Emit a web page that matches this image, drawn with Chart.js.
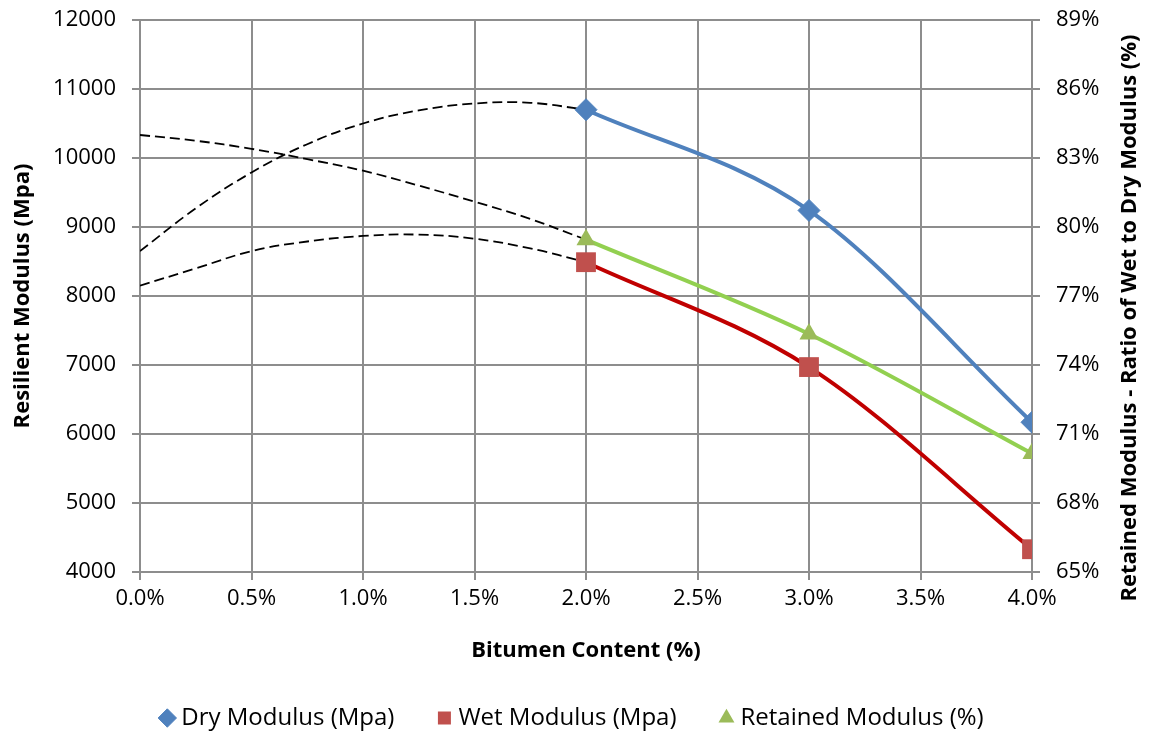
<!DOCTYPE html>
<html>
<head>
<meta charset="utf-8">
<script src="https://cdn.jsdelivr.net/npm/chart.js@4.4.1/dist/chart.umd.min.js"></script>
<style>
  html, body { margin: 0; padding: 0; background: #ffffff; }
  #wrap { width: 1149px; height: 734px; }
</style>
</head>
<body>
<div id="wrap"><canvas id="chart" width="1149" height="734"></canvas></div>
<script>
// Bitumen content (%) at which the specimens were tested
const bitumen = [2.0, 3.0, 4.0];
// Resilient modulus, dry and wet conditioned (MPa)
const dryModulus = [10700, 9240, 6170];
const wetModulus = [8490, 6970, 4330];
// Retained modulus, wet / dry (%)
const retainedModulus = [79.45, 75.35, 70.15];

// Polynomial trend lines carried back to 0 % bitumen
const trendBitumen = [0, 0.25, 0.5, 0.75, 1.0, 1.25, 1.5, 1.75, 2.0];
const dryTrend = [8650, 9270, 9790, 10200, 10500, 10690, 10790, 10800, 10700];
const wetTrend = [8150, 8400, 8650, 8790, 8870, 8890, 8830, 8690, 8490];
const retainedTrend = [84.0, 83.75, 83.4, 82.95, 82.45, 81.8, 81.1, 80.35, 79.45];

// Axis tick settings
const xTicks = { min: 0, max: 4, step: 0.5 };
const leftTicks = { min: 4000, max: 12000, step: 1000 };
const rightTicks = { min: 65, max: 89, step: 3 };

const xTitle = 'Bitumen Content (%)';
const leftTitle = 'Resilient Modulus (Mpa)';
const rightTitle = 'Retained Modulus - Ratio of Wet to Dry Modulus (%)';

const FONT = '"Open Sans", "Noto Sans", sans-serif';
const GRID = '#8d8d8d';

const pts = (xs, ys) => xs.map((x, i) => ({ x: x, y: ys[i] }));

// Right-hand axis title, reading bottom to top
const rightTitlePlugin = {
  id: 'rightTitle',
  afterDraw(chart) {
    const { ctx, chartArea } = chart;
    const s = chart.scales.y2;
    ctx.save();
    ctx.font = 'bold 22px ' + FONT;
    ctx.fillStyle = '#000000';
    ctx.textAlign = 'center';
    ctx.textBaseline = 'middle';
    ctx.translate(s.right - 19, (chartArea.top + chartArea.bottom) / 2 + 22);
    ctx.rotate(-Math.PI / 2);
    ctx.fillText(rightTitle, 0, 0);
    ctx.restore();
  }
};

const trendStyle = {
  borderColor: '#000000',
  borderWidth: 1.8,
  borderDash: [10, 5],
  pointRadius: 0,
  tension: 0.4,
  fill: false
};

// vertical axes: keep the plot area flush with the top padding
const noVPad = (scale) => { scale.paddingTop = 0; scale.paddingBottom = 0; };

new Chart(document.getElementById('chart'), {
  type: 'line',
  data: {
    datasets: [
      {
        label: 'Dry Modulus (Mpa)',
        data: pts(bitumen, dryModulus),
        yAxisID: 'y',
        borderColor: '#4F81BD',
        backgroundColor: '#4F81BD',
        borderWidth: 4,
        pointStyle: 'rectRot',
        pointRadius: 11,
        pointBorderWidth: 1,
        cubicInterpolationMode: 'monotone'
      },
      {
        label: 'Wet Modulus (Mpa)',
        data: pts(bitumen, wetModulus),
        yAxisID: 'y',
        borderColor: '#C00000',
        backgroundColor: '#C0504D',
        pointBorderColor: '#C0504D',
        borderWidth: 4,
        pointStyle: 'rect',
        pointRadius: 14,
        pointBorderWidth: 0,
        cubicInterpolationMode: 'monotone'
      },
      {
        label: 'Retained Modulus (%)',
        data: pts(bitumen, retainedModulus),
        yAxisID: 'y2',
        borderColor: '#92D050',
        backgroundColor: '#9BBB59',
        pointBorderColor: '#9BBB59',
        borderWidth: 4,
        pointStyle: 'triangle',
        pointRadius: 11,
        pointBorderWidth: 0,
        cubicInterpolationMode: 'monotone'
      },
      Object.assign({ label: '', data: pts(trendBitumen, dryTrend), yAxisID: 'y' }, trendStyle),
      Object.assign({ label: '', data: pts(trendBitumen, wetTrend), yAxisID: 'y' }, trendStyle),
      Object.assign({ label: '', data: pts(trendBitumen, retainedTrend), yAxisID: 'y2' }, trendStyle)
    ]
  },
  options: {
    responsive: false,
    animation: false,
    events: [],
    layout: { padding: { top: 20, left: 0, right: 0, bottom: -6 } },
    plugins: {
      tooltip: { enabled: false },
      legend: {
        position: 'bottom',
        labels: {
          usePointStyle: true,
          boxWidth: 4,
          boxHeight: 13,
          padding: 48,
          color: '#000000',
          font: { family: FONT, size: 24 },
          filter: (item) => item.text !== ''
        }
      }
    },
    scales: {
      x: {
        type: 'linear',
        min: xTicks.min,
        max: xTicks.max,
        afterBuildTicks(scale) {
          const t = [];
          for (let v = xTicks.min; v <= xTicks.max + 1e-9; v += xTicks.step) t.push({ value: +v.toFixed(2) });
          scale.ticks = t;
        },
        afterFit(scale) {
          scale.height = 734 + 6 - 572 - scale.chart.legend.height;
        },
        grid: { color: GRID, lineWidth: 2, tickLength: 8, tickColor: GRID },
        border: { color: GRID, width: 2 },
        ticks: {
          color: '#000000',
          font: { family: FONT, size: 22 },
          padding: 6,
          maxRotation: 0,
          callback: (v) => Number(v).toFixed(1) + '%'
        },
        title: {
          display: true,
          text: xTitle,
          color: '#000000',
          font: { family: FONT, size: 22, weight: 'bold' },
          padding: { top: 0, bottom: -6 }
        }
      },
      y: {
        position: 'left',
        min: leftTicks.min,
        max: leftTicks.max,
        afterBuildTicks(scale) {
          const t = [];
          for (let v = leftTicks.min; v <= leftTicks.max; v += leftTicks.step) t.push({ value: v });
          scale.ticks = t;
        },
        afterFit(scale) { scale.width = 140; noVPad(scale); },
        grid: { color: GRID, lineWidth: 2, tickLength: 8, tickColor: GRID },
        border: { color: GRID, width: 2 },
        ticks: {
          color: '#000000',
          font: { family: FONT, size: 22 },
          padding: 16,
          callback: (v) => String(v)
        },
        title: {
          display: true,
          text: leftTitle,
          color: '#000000',
          font: { family: FONT, size: 22, weight: 'bold' },
          padding: { top: 10, bottom: 0 }
        }
      },
      y2: {
        position: 'right',
        min: rightTicks.min,
        max: rightTicks.max,
        afterBuildTicks(scale) {
          const t = [];
          for (let v = rightTicks.min; v <= rightTicks.max; v += rightTicks.step) t.push({ value: v });
          scale.ticks = t;
        },
        afterFit(scale) { scale.width = 1149 - 1032; noVPad(scale); },
        grid: { drawOnChartArea: false, color: GRID, lineWidth: 2, tickLength: 8, tickColor: GRID },
        border: { color: GRID, width: 2 },
        ticks: {
          color: '#000000',
          font: { family: FONT, size: 22 },
          padding: 16,
          callback: (v) => v + '%'
        }
      }
    }
  },
  plugins: [rightTitlePlugin]
});
</script>
</body>
</html>
